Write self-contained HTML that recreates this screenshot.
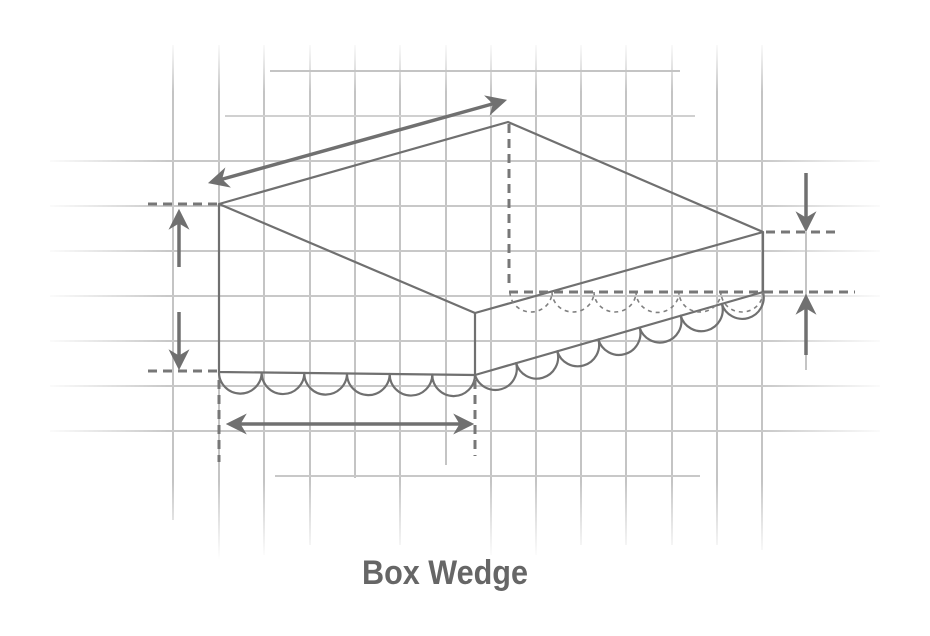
<!DOCTYPE html>
<html><head><meta charset="utf-8"><style>
html,body{margin:0;padding:0;background:#fff;width:930px;height:636px;overflow:hidden}
</style></head><body>
<svg width="930" height="636" viewBox="0 0 930 636" xmlns="http://www.w3.org/2000/svg">
<defs>
<linearGradient id="gv" gradientUnits="userSpaceOnUse" x1="0" y1="40" x2="0" y2="560">
<stop offset="0" stop-color="#ccc" stop-opacity="0"/><stop offset="0.1" stop-color="#c4c4c4"/><stop offset="0.85" stop-color="#c4c4c4"/><stop offset="1" stop-color="#ccc" stop-opacity="0"/></linearGradient>
<linearGradient id="gh" gradientUnits="userSpaceOnUse" x1="40" y1="0" x2="890" y2="0">
<stop offset="0" stop-color="#ccc" stop-opacity="0"/><stop offset="0.15" stop-color="#c8c8c8"/><stop offset="0.85" stop-color="#c8c8c8"/><stop offset="1" stop-color="#ccc" stop-opacity="0"/></linearGradient>
<marker id="ah" viewBox="0 0 10 10" refX="8" refY="5" markerWidth="6" markerHeight="6" orient="auto-start-reverse" markerUnits="strokeWidth">
<path d="M0,0 L10,5 L0,10 L3,5 Z" fill="#707070"/></marker>
</defs>
<g stroke="url(#gv)" stroke-width="2">
<line x1="173" y1="45" x2="173" y2="520"/><line x1="219" y1="45" x2="219" y2="560"/>
<line x1="264" y1="45" x2="264" y2="555"/><line x1="310" y1="45" x2="310" y2="545"/>
<line x1="355" y1="45" x2="355" y2="478"/><line x1="400" y1="45" x2="400" y2="545"/>
<line x1="446" y1="45" x2="446" y2="465"/><line x1="491" y1="45" x2="491" y2="555"/>
<line x1="536" y1="45" x2="536" y2="555"/><line x1="581" y1="45" x2="581" y2="545"/>
<line x1="626" y1="45" x2="626" y2="545"/><line x1="672" y1="45" x2="672" y2="545"/>
<line x1="717" y1="45" x2="717" y2="545"/><line x1="762" y1="45" x2="762" y2="550"/>
</g>
<g stroke="url(#gh)" stroke-width="2">
<line x1="270" y1="71" x2="680" y2="71" stroke="#c4c4c4"/>
<line x1="225" y1="116" x2="695" y2="116" stroke="#d0d0d0"/>
<line x1="50" y1="161" x2="880" y2="161"/><line x1="50" y1="206" x2="880" y2="206"/>
<line x1="50" y1="251" x2="880" y2="251"/><line x1="50" y1="296" x2="880" y2="296"/>
<line x1="50" y1="341" x2="880" y2="341"/><line x1="50" y1="386" x2="880" y2="386"/>
<line x1="50" y1="431" x2="880" y2="431"/>
<line x1="275" y1="476" x2="700" y2="476" stroke="#c8c8c8"/>
</g>
<line x1="806" y1="232" x2="806" y2="370" stroke="#c4c4c4" stroke-width="2"/>
<g fill="none" stroke="#707070" stroke-width="2.2" stroke-linejoin="round">
<path d="M219,204 L508,122 L763,232 L475,313 Z"/>
<path d="M219,204 L219,372 L475,375 L475,313"/>
<path d="M475,375 L763,292 L763,232"/>
<path d="M219,372 A21.3,21.3 0 0 0 261.7,372.5 A21.3,21.3 0 0 0 304.3,373 A21.3,21.3 0 0 0 347,373.5 A21.3,21.3 0 0 0 389.7,374 A21.3,21.3 0 0 0 432.3,374.5 A21.3,21.3 0 0 0 475,375"/>
<path d="M475,375 A21.4,21.4 0 0 0 516.1,363.1 A21.4,21.4 0 0 0 557.3,351.3 A21.4,21.4 0 0 0 598.4,339.4 A21.4,21.4 0 0 0 639.6,327.6 A21.4,21.4 0 0 0 680.7,315.7 A21.4,21.4 0 0 0 721.9,303.9 A21.4,21.4 0 0 0 763,292"/>
</g>
<g fill="none" stroke="#808080" stroke-width="1.6" stroke-dasharray="4,4">
<path d="M510,292 A21,20 0 0 0 552,292 A21,20 0 0 0 594,292 A21,20 0 0 0 636,292 A21,20 0 0 0 679,292 A21,20 0 0 0 721,292 A21,20 0 0 0 763,292"/>
</g>
<g fill="none" stroke="#777" stroke-width="3" stroke-dasharray="9,6">
<line x1="509" y1="124" x2="509" y2="288"/>
<line x1="509" y1="292" x2="855" y2="292"/>
<line x1="766" y1="232" x2="840" y2="232"/>
<line x1="148" y1="204" x2="218" y2="204"/>
<line x1="148" y1="371" x2="218" y2="371"/>
<line x1="219" y1="380" x2="219" y2="462"/>
<line x1="475" y1="380" x2="475" y2="456"/>
</g>
<g stroke="#707070" stroke-width="3.5" fill="none">
<line x1="212" y1="182" x2="503" y2="101" marker-start="url(#ah)" marker-end="url(#ah)"/>
<line x1="230" y1="424" x2="470" y2="424" marker-start="url(#ah)" marker-end="url(#ah)"/>
<line x1="179" y1="267" x2="179" y2="213" marker-end="url(#ah)"/>
<line x1="179" y1="312" x2="179" y2="366" marker-end="url(#ah)"/>
<line x1="806" y1="173" x2="806" y2="228" marker-end="url(#ah)"/>
<line x1="806" y1="355" x2="806" y2="298" marker-end="url(#ah)"/>
</g>
<text x="362" y="584" textLength="166" lengthAdjust="spacingAndGlyphs" font-family="Liberation Sans, sans-serif" font-weight="bold" font-size="34" fill="#666">Box Wedge</text>
</svg>
</body></html>
